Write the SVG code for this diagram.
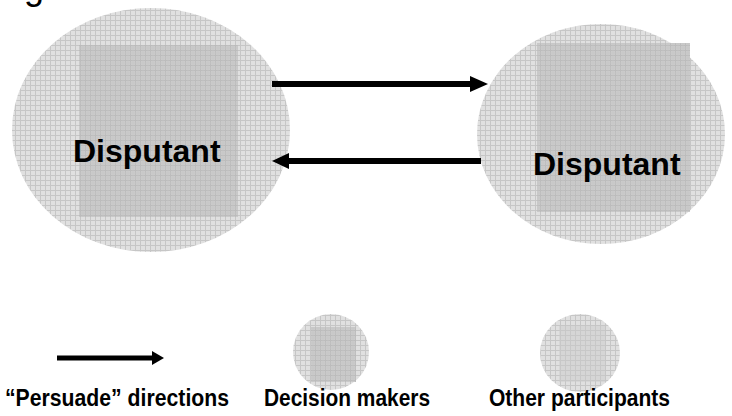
<svg xmlns="http://www.w3.org/2000/svg" width="732" height="416" viewBox="0 0 732 416">
<defs>
<pattern id="gridOuter" patternUnits="userSpaceOnUse" width="5" height="5">
<rect width="5" height="5" fill="#e0e0e0"/>
<path d="M0 0.5H5M0.5 0V5" stroke="#c6c6c6" stroke-width="1"/>
</pattern>
<pattern id="gridInner" patternUnits="userSpaceOnUse" width="5" height="5">
<rect width="5" height="5" fill="#cbcbcb"/>
<path d="M0 0.5H5M0.5 0V5" stroke="#bcbcbc" stroke-width="1"/>
<path d="M0 3H5M3 0V5" stroke="#c5c5c5" stroke-width="0.6"/>
</pattern>
<pattern id="gridInnerLight" patternUnits="userSpaceOnUse" width="5" height="5">
<rect width="5" height="5" fill="#d6d6d6"/>
<path d="M0 0.5H5M0.5 0V5" stroke="#c8c8c8" stroke-width="1"/>
</pattern>
</defs>
<style>
.outer{fill:url(#gridOuter);}
.inner{fill:url(#gridInner);}
.innerLight{fill:url(#gridInnerLight);}
.big{font-family:"Liberation Sans",Arial,sans-serif;font-weight:bold;font-size:32px;fill:#000;}
.leg{font-family:"Liberation Sans",Arial,sans-serif;font-weight:bold;font-size:23px;fill:#000;}
.conn{stroke:#000;stroke-width:6;fill:none;}
.head{fill:#000;}
</style>
<text x="24" y="-1" style="font-family:'Liberation Sans',Arial,sans-serif;font-size:36px;fill:#000">g</text>
<g id="disputant-left">
<ellipse class="outer" cx="151" cy="130" rx="139" ry="122"/>
<rect class="inner" x="79" y="45" width="159" height="172"/>
<text class="big" x="73" y="162">Disputant</text>
</g>
<g id="disputant-right">
<ellipse class="outer" cx="601" cy="134" rx="124" ry="110"/>
<rect class="inner" x="537" y="43" width="153" height="169"/>
<text class="big" x="533" y="175">Disputant</text>
</g>
<g id="connectors">
<path class="conn" d="M272 84H470"/>
<path class="head" d="M470 76L488 84L470 92z"/>
<path class="conn" d="M481 161H289"/>
<path class="head" d="M289 153L272 161L289 169z"/>
</g>
<g id="legend-arrow">
<path d="M57 358H152" stroke="#000" stroke-width="5"/>
<path class="head" d="M152 351L164 358L152 365z"/>
<text class="leg" x="5" y="406" textLength="224" lengthAdjust="spacingAndGlyphs">“Persuade” directions</text>
</g>
<g id="legend-decision">
<ellipse class="outer" cx="331" cy="352" rx="38" ry="38"/>
<rect class="inner" x="311" y="327" width="45" height="55"/>
<text class="leg" x="264" y="406" textLength="166" lengthAdjust="spacingAndGlyphs">Decision makers</text>
</g>
<g id="legend-other">
<ellipse class="outer" cx="580" cy="353" rx="40" ry="39"/>
<rect class="innerLight" x="559" y="326" width="46" height="56"/>
<text class="leg" x="489" y="406" textLength="181" lengthAdjust="spacingAndGlyphs">Other participants</text>
</g>
</svg>
